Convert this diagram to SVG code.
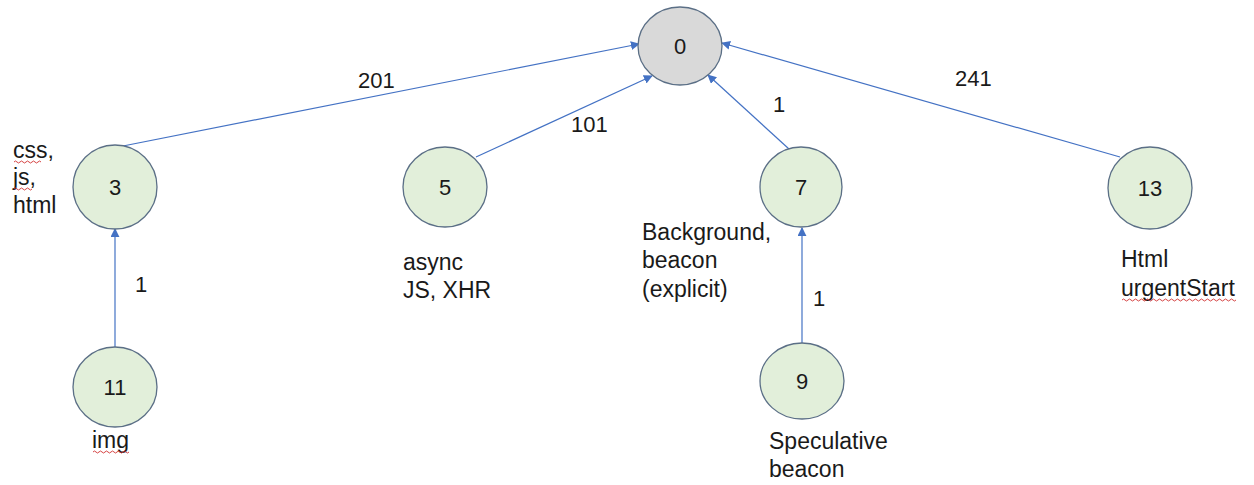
<svg xmlns="http://www.w3.org/2000/svg" width="1254" height="485" viewBox="0 0 1254 485">
<style>
.n{fill:#e2efda;stroke:#5b6f86;stroke-width:1.3}
.root{fill:#d9d9d9;stroke:#5b6f86;stroke-width:1.3}
.t{font-family:"Liberation Sans",Arial,sans-serif;font-size:23px;fill:#1a1a1a}
.d{font-family:"Liberation Sans",Arial,sans-serif;font-size:22px;fill:#1a1a1a}
.c{text-anchor:middle}
.e{stroke:#4472c4;stroke-width:1.2;fill:none;marker-end:url(#ah)}
.sq{stroke:#d03030;stroke-width:0.9;fill:none}
</style>
<defs>
<marker id="ah" viewBox="0 0 10 10" refX="9" refY="5" markerWidth="9" markerHeight="9" markerUnits="userSpaceOnUse" orient="auto">
<path d="M0,0 L10,5 L0,10 z" fill="#4472c4"/>
</marker>
</defs>
<rect width="1254" height="485" fill="#ffffff"/>
<g id="connectors">
<line class="e" x1="123" y1="146" x2="639" y2="44"/>
<line class="e" x1="476" y1="157" x2="652" y2="76"/>
<line class="e" x1="789" y1="149" x2="708" y2="75"/>
<line class="e" x1="1120" y1="157" x2="722" y2="43"/>
<line class="e" x1="115" y1="347" x2="115" y2="229"/>
<line class="e" x1="802" y1="343" x2="802" y2="228"/>
<text class="d" x="358" y="88">201</text>
<text class="d" x="571" y="132">101</text>
<text class="d" x="773" y="112">1</text>
<text class="d" x="955" y="86">241</text>
<text class="d" x="135" y="292">1</text>
<text class="d" x="813" y="306">1</text>
</g>
<g id="node-0">
<ellipse class="root" cx="680" cy="46" rx="42" ry="39"/>
<text class="d c" x="680" y="54">0</text>
</g>
<g id="node-3">
<ellipse class="n" cx="115" cy="187" rx="42" ry="42"/>
<text class="d c" x="115" y="195">3</text>
<text class="t" x="13" y="158">css,</text>
<text class="t" x="13" y="185">js,</text>
<text class="t" x="13" y="213">html</text>
<path class="sq" d="M14,162 q1.5,-2 3,0 t3,0 t3,0 t3,0 t3,0 t3,0 t3,0 t3,0 t3,0"/>
<path class="sq" d="M14,189 q1.5,-2 3,0 t3,0 t3,0 t3,0 t3,0 t3,0"/>
</g>
<g id="node-11">
<ellipse class="n" cx="115" cy="387" rx="42" ry="40"/>
<text class="d c" x="115" y="395">11</text>
<text class="t" x="92" y="448">img</text>
<path class="sq" d="M93,452 q1.5,-2 3,0 t3,0 t3,0 t3,0 t3,0 t3,0 t3,0 t3,0 t3,0 t3,0 t3,0 t3,0"/>
</g>
<g id="node-5">
<ellipse class="n" cx="445" cy="187" rx="42" ry="40"/>
<text class="d c" x="445" y="195">5</text>
<text class="t" x="403" y="270">async</text>
<text class="t" x="403" y="298">JS, XHR</text>
</g>
<g id="node-7">
<ellipse class="n" cx="801" cy="187" rx="41" ry="40"/>
<text class="d c" x="801" y="195">7</text>
<text class="t" x="642" y="240">Background,</text>
<text class="t" x="642" y="268">beacon</text>
<text class="t" x="642" y="297">(explicit)</text>
</g>
<g id="node-9">
<ellipse class="n" cx="802" cy="381" rx="42" ry="38"/>
<text class="d c" x="802" y="389">9</text>
<text class="t" x="769" y="449">Speculative</text>
<text class="t" x="769" y="477">beacon</text>
</g>
<g id="node-13">
<ellipse class="n" cx="1150" cy="188" rx="42" ry="41"/>
<text class="d c" x="1150" y="196">13</text>
<text class="t" x="1121" y="267">Html</text>
<text class="t" x="1121" y="296">urgentStart</text>
<path class="sq" d="M1122,300 q1.5,-2 3,0 t3,0 t3,0 t3,0 t3,0 t3,0 t3,0 t3,0 t3,0 t3,0 t3,0 t3,0 t3,0 t3,0 t3,0 t3,0 t3,0 t3,0 t3,0 t3,0 t3,0 t3,0 t3,0 t3,0 t3,0 t3,0 t3,0 t3,0 t3,0 t3,0 t3,0 t3,0 t3,0 t3,0 t3,0 t3,0 t3,0 t3,0"/>
</g>
</svg>
